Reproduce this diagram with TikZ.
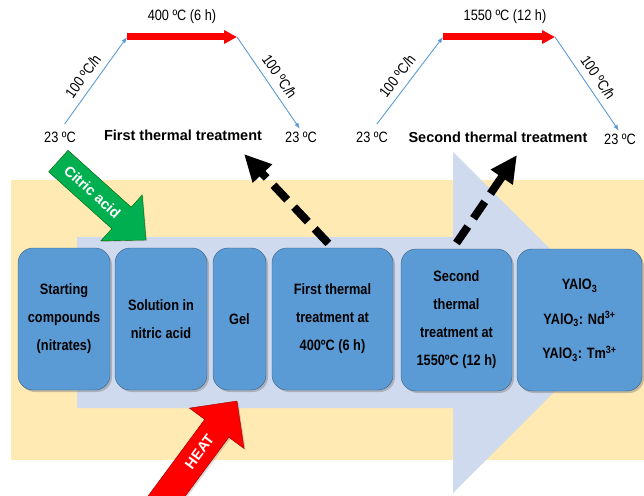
\documentclass[tikz,border=0pt]{standalone}
\usepackage{fontspec}
\setmainfont{Liberation Sans}
\newfontfamily\narrowfont{Liberation Sans}[FakeStretch=0.85]
\usepackage{tikz}
\usetikzlibrary{shadows}
\usetikzlibrary{arrows.meta,calc}
\definecolor{boxblue}{HTML}{5B9BD5}
\definecolor{boxline}{HTML}{3C5F86}
\definecolor{flowblue}{HTML}{CFDAEE}
\definecolor{bandyellow}{HTML}{FFEAB3}
\definecolor{acidgreen}{HTML}{00B050}
\definecolor{rampblue}{HTML}{5B9BD5}
\tikzstyle{stepbox}=[draw=boxline, fill=boxblue, rounded corners=15pt, minimum height=142pt, inner sep=0pt, align=center, font=\narrowfont\bfseries\fontsize{15}{28}\selectfont, drop shadow={shadow xshift=2pt, shadow yshift=-2pt, opacity=0.45}]
\tikzstyle{rampline}=[draw=rampblue, line width=0.9pt, -{Latex[length=6pt,width=4.5pt]}]
\tikzstyle{holdline}=[draw=red, line width=7pt, -{Triangle[length=13pt,width=13pt]}]
\tikzstyle{templabel}=[font=\narrowfont\fontsize{15}{18}\selectfont, inner sep=1pt]
\tikzstyle{heading}=[font=\bfseries\fontsize{14.5}{17}\selectfont]
\tikzstyle{arrowlabel}=[text=white, font=\bfseries\fontsize{14.5}{17}\selectfont, inner sep=0pt, transform shape]
\tikzstyle{dasharrow}=[draw=black, line width=8pt, dash pattern=on 20pt off 10pt, -{Triangle[length=27pt,width=25pt]}]

\begin{document}
\begin{tikzpicture}[x=1pt, y=1pt]
   \useasboundingbox (0,0) rectangle (644,-495);
   \clip (0,0) rectangle (644,-495);

   % background band and process arrow
   \fill[bandyellow] (11,-180) rectangle (644,-460);
   \fill[flowblue] (77,-237) -- (453,-237) -- (453,-152) -- (623.5,-322.5) -- (453,-493) -- (453,-408) -- (77,-408) -- cycle;

   % process steps
    \foreach \pos/ \name/ \boxw/ \txt in {{(64,-319)/start/92/{Starting\\compounds\\(nitrates)}}, {(161,-319)/sol/92/{Solution in\\nitric acid}}, {(239.5,-319)/gel/53/Gel}, {(332.5,-319)/heat1/121/{First thermal\\treatment at\\400ºC (6 h)}}, {(456.5,-320)/heat2/111/{Second\\thermal\\treatment at\\1550ºC (12 h)}}}
        \node[stepbox, minimum width=\boxw] (\name) at \pos {\txt};
    \node[stepbox, minimum width=125, font=\narrowfont\bfseries\fontsize{15}{34.5}\selectfont] (prod) at (579.5,-320) {YAlO\textsubscript{3}\\YAlO\textsubscript{3}: Nd\textsuperscript{3+}\\YAlO\textsubscript{3}: Tm\textsuperscript{3+}};

   % citric acid and heat
   \begin{scope}[shift={(146,-240)}, rotate=-42]
     \fill[acidgreen, draw=green!40!black, line width=0.4pt, drop shadow={opacity=0.3, shadow xshift=1pt, shadow yshift=-1pt}] (0,0) -- (-33,31) -- (-33,14.5) -- (-118,14.5) -- (-118,-14.5) -- (-33,-14.5) -- (-33,-31) -- cycle;
     \node[arrowlabel] (acid) at (-72,0) {Citric acid};
   \end{scope}
   \begin{scope}[shift={(237,-401)}, rotate=53.5]
     \fill[red, draw=red!60!black, line width=0.4pt, drop shadow={opacity=0.3, shadow xshift=1.5pt, shadow yshift=-1.5pt}] (0,0) -- (-34,34) -- (-34,15) -- (-150,15) -- (-150,-15) -- (-34,-15) -- (-34,-34) -- cycle;
     \node[arrowlabel] (heat) at (-63,0) {HEAT};
   \end{scope}

   % first thermal treatment
   \node[templabel] (rt1) at (60,-137) {23 ºC};
   \node[heading] (tt1) at (183,-135) {First thermal treatment};
   \node[templabel] (rt2) at (301,-137) {23 ºC};
   \coordinate (top1) at (127,-37);
   \coordinate (top2) at (237,-37);
   \draw[rampline, shorten <=8pt] (rt1.north) -- node[templabel, sloped, above=6pt] {100 ºC/h} (top1);
   \draw[holdline] (top1) -- node[templabel, above=9pt] {400 ºC (6 h)} (top2);
   \draw[rampline, shorten >=2pt] (top2) -- node[templabel, sloped, above=6pt] {100 ºC/h} (rt2.north);

   % second thermal treatment
   \node[templabel] (rt3) at (372,-137) {23 ºC};
   \node[heading] (tt2) at (498,-137) {Second thermal treatment};
   \node[templabel] (rt4) at (620,-139) {23 ºC};
   \coordinate (top3) at (443,-37);
   \coordinate (top4) at (555,-37);
   \draw[rampline, shorten <=8pt] (rt3.north) -- node[templabel, sloped, above=6pt] {100 ºC/h} (top3);
   \draw[holdline] (top3) -- node[templabel, above=9pt, xshift=6pt] {1550 ºC (12 h)} (top4);
   \draw[rampline, shorten >=2pt] (top4) -- node[templabel, sloped, above=6pt] {100 ºC/h} (rt4.north);

   % links to the heating profiles
   \coordinate (up1) at (244,-154);
   \coordinate (up2) at (517,-155);
   \draw[dasharrow, shorten <=6pt] (heat1.north) -- (up1);
   \draw[dasharrow, shorten <=7pt] ([xshift=-4pt]heat2.north) -- (up2);

      \end{tikzpicture}
\end{document}
